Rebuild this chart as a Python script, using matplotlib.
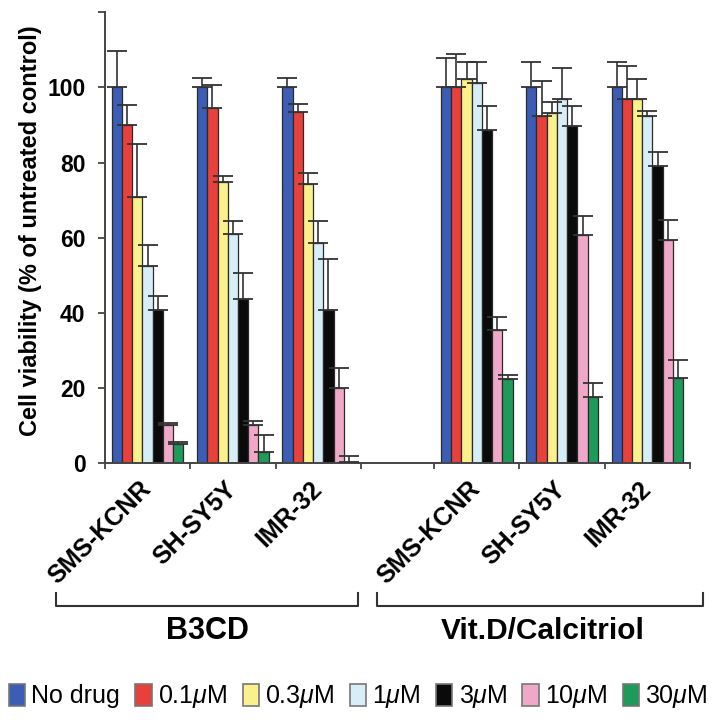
import numpy as np
import matplotlib
matplotlib.use('Agg')
import matplotlib.pyplot as plt
from matplotlib.lines import Line2D

plt.rcParams['font.family'] = ['Liberation Sans', 'DejaVu Sans']
plt.rcParams['mathtext.fontset'] = 'custom'
plt.rcParams['mathtext.rm'] = 'Liberation Sans'
plt.rcParams['mathtext.it'] = 'Liberation Sans:italic'

# Data
cell_lines = ['SMS-KCNR', 'SH-SY5Y', 'IMR-32']
doses = ['No drug', r'0.1$\mu$M', r'0.3$\mu$M', r'1$\mu$M', r'3$\mu$M', r'10$\mu$M', r'30$\mu$M']
drugs = ['B3CD', 'Vit.D/Calcitriol']

# rows = cell lines, columns = doses
b3cd_mean = [[100, 90.0, 70.8, 52.5, 40.8, 10.1, 5.1],
             [100, 94.6, 74.7, 61.0, 43.6, 10.0, 2.9],
             [100, 93.5, 74.4, 58.6, 40.8, 20.0, 0.4]]
b3cd_err = [[9.8, 5.4, 14.1, 5.5, 3.7, 0.5, 0.5],
            [2.6, 6.0, 1.7, 3.3, 7.0, 1.3, 4.5],
            [2.6, 2.0, 2.9, 5.7, 13.5, 5.2, 1.6]]
vitd_mean = [[100, 100, 102.1, 101.1, 88.6, 35.4, 22.3],
             [100, 92.4, 93.3, 97.0, 89.7, 60.6, 17.6],
             [100, 97.0, 97.0, 92.4, 79.1, 59.4, 22.7]]
vitd_err = [[7.7, 8.8, 4.7, 5.7, 6.4, 3.5, 1.1],
            [6.8, 9.4, 2.7, 8.1, 5.3, 5.2, 3.6],
            [6.8, 8.7, 5.1, 1.3, 3.7, 5.2, 4.6]]

colors = ['#3C5DB5', '#E8413C', '#FAF08C', '#D7EEF8', '#0A0A0A', '#F0A8C8', '#1E9B5A']

fig = plt.figure(figsize=(7.16, 7.2), dpi=100)
ax = fig.add_axes([0.1466, 0.3569, 0.8171, 0.6261])

left_pos = np.arange(3)
right_pos = np.arange(3) + 3.86
width = 0.12
offsets = (np.arange(7) - 3) * width

for means, errs, pos in [(b3cd_mean, b3cd_err, left_pos), (vitd_mean, vitd_err, right_pos)]:
    m = np.array(means)
    e = np.array(errs)
    for j in range(len(doses)):
        ax.bar(pos + offsets[j], m[:, j], width, color=colors[j], edgecolor='#2a2a2a',
               linewidth=0.9, zorder=2)
        ax.errorbar(pos + offsets[j], m[:, j], yerr=[np.zeros(3), e[:, j]], fmt='none',
                    ecolor='#333333', elinewidth=1.2, capsize=7, capthick=1.3, zorder=3)

ax.set_xlim(-0.5, 6.36)
ax.set_ylim(0, 120)
ax.set_yticks(np.arange(0, 121, 20))
ax.set_yticklabels(['0', '20', '40', '60', '80', '100', ''], fontsize=16.5, fontweight='bold')
ax.tick_params(axis='y', direction='out', length=5, width=1.3, color='#444444', pad=9)

centers = np.concatenate([left_pos, right_pos])
ax.set_xticks(centers)
ax.set_xticklabels(cell_lines + cell_lines, rotation=45, ha='right', va='center',
                   rotation_mode='anchor', fontsize=18, fontweight='bold')
ax.tick_params(axis='x', which='major', length=0, pad=16)
bounds = np.concatenate([left_pos - 0.5, [left_pos[-1] + 0.5], right_pos - 0.5, [right_pos[-1] + 0.5]])
ax.set_xticks(bounds, minor=True)
ax.tick_params(axis='x', which='minor', direction='out', length=4, width=1.3, color='#444444')

for s in ['top', 'right']:
    ax.spines[s].set_visible(False)
for s in ['left', 'bottom']:
    ax.spines[s].set_color('#444444')
    ax.spines[s].set_linewidth(1.4)

ax.set_ylabel('Cell viability (% of untreated control)', fontsize=17, fontweight='bold')
ax.yaxis.set_label_coords(-0.107, 0.515)

# group brackets (pixel coordinates of the 716x720 canvas)
W, H = 716.0, 720.0
for x0, x1 in [(56, 358), (377, 703)]:
    fig.add_artist(Line2D([x0 / W, x0 / W, x1 / W, x1 / W],
                          [1 - 593 / H, 1 - 606 / H, 1 - 606 / H, 1 - 593 / H],
                          color='#333333', lw=1.5))
fig.text(207 / W, 1 - 631 / H, drugs[0], ha='center', va='center', fontsize=22, fontweight='bold')
fig.text(543 / W, 1 - 631 / H, drugs[1], ha='center', va='center', fontsize=21.5, fontweight='bold')

handles = [plt.Rectangle((0, 0), 1, 1, facecolor=c, edgecolor='#777777', linewidth=1.2) for c in colors]
fig.legend(handles, doses, loc='center', bbox_to_anchor=(0.5, 1 - 697 / H), ncol=7,
           frameon=False, fontsize=18, handlelength=0.65, handleheight=1.0,
           handletextpad=0.25, columnspacing=0.62, borderaxespad=0, borderpad=0)

fig.savefig('out.png', dpi=100)
